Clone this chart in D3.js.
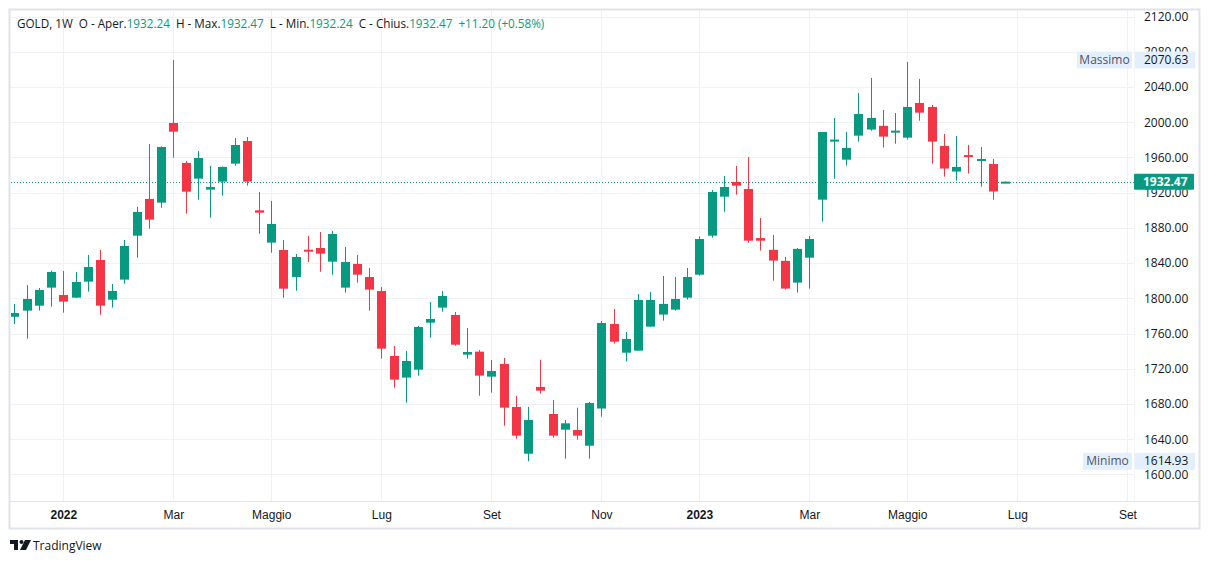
<!DOCTYPE html>
<html>
<head>
<meta charset="utf-8">
<script src="https://cdn.jsdelivr.net/npm/d3@7/dist/d3.min.js"></script>
<style>
  html, body { margin: 0; padding: 0; background: #ffffff; }
  svg { display: block; font-family: "Open Sans", Roboto, "Liberation Sans", sans-serif; }
</style>
</head>
<body>
<svg id="chart" width="1209" height="564"></svg>
<script>
// ---------- DATA (weekly GOLD candles) ----------
const firstWeek = "2021-12-06";   // Monday of first visible weekly bar
const barCount = 82;

const opens = [1779,1786,1791.6,1812.1,1803.7,1800.7,1818.9,1843.5,1798.4,1821.2,
  1871.1,1912.8,1908.6,1999.1,1953.7,1935.9,1923.4,1932.5,1952.9,1978.6,
  1899.9,1863.2,1854.9,1824.2,1855.2,1857.1,1841.6,1812.1,1839,1824.2,
  1808.2,1734.5,1709.9,1718.9,1772.3,1789.4,1781,1736,1739.4,1711,
  1725.4,1676.6,1623.5,1699.3,1668.6,1650.8,1650.4,1632.6,1674.8,1770.8,
  1738.2,1740.5,1767.8,1781.5,1787.1,1800.7,1826.8,1871.1,1915.4,1932.1,
  1924.1,1868.4,1855,1842.5,1817.8,1846.1,1912,1979.1,1957.4,1984.7,
  1991.6,1995.8,1989.2,1982.4,2021.8,2017.3,1973,1943.9,1962.6,1957,
  1952.5,1932.24];
const highs = [1793.5,1815,1811.7,1831.4,1831,1829.9,1849.2,1854.9,1816.2,1866.2,
  1903.7,1975.2,1972.5,2070.63,1956,1967.2,1950.3,1949.6,1982,1983.1,
  1920.7,1910.5,1866.2,1850.3,1870.8,1875.3,1876.4,1858.2,1849.2,1834.4,
  1812.8,1745.8,1740.1,1768.5,1795.8,1808.2,1784.4,1766.3,1741.3,1729.9,
  1732.2,1689,1676.6,1730.2,1684.5,1661.8,1675.8,1682.3,1774.2,1787.8,
  1761.7,1804.9,1807.2,1825.3,1824.2,1834.4,1870.3,1923,1938.9,1950.3,
  1960.5,1891.2,1872,1847,1857.2,1870.7,1988.9,2004.8,1988.9,2033.1,
  2050.2,2013.9,2010.4,2068.4,2049.1,2019.5,1986.6,1984.3,1974.1,1971.8,
  1958.2,1932.47];
const lows = [1770.8,1754.2,1786,1790.5,1783.7,1800.3,1807.5,1781.4,1789.4,1816.6,
  1846.1,1879.1,1902.9,1959.7,1896.1,1912,1891.6,1916.6,1950.6,1927.9,
  1873.4,1851.8,1800.7,1808.6,1841.2,1830.2,1826.8,1806.4,1817.8,1785.9,
  1731.4,1698.5,1681.5,1712.2,1755.3,1784.8,1746.2,1731.4,1689.4,1692.8,
  1655.3,1640.6,1614.93,1691.7,1641.7,1617.9,1639.4,1617.9,1665.6,1748.5,
  1728.3,1740.5,1767.8,1774.6,1786,1798.5,1825.7,1868.8,1898.2,1917.7,
  1863.2,1854.2,1820,1809.9,1806.4,1811,1887,1935.9,1950.6,1977.9,
  1990.4,1971.1,1975.6,1980.2,2001.7,1952.9,1938.2,1933.6,1941.7,1926.8,
  1912,1932.24];
const closes = [1783.3,1799.2,1809.4,1829.9,1796.2,1818.5,1835.5,1791.6,1808.3,1859.4,
  1898,1889.3,1971.8,1989.2,1921.1,1959.3,1926.4,1949.2,1974.1,1932.5,
  1897.2,1884.4,1810.9,1846.9,1853,1850.7,1873,1841.2,1826.8,1809.8,
  1742.8,1707.6,1728.8,1767.4,1776.5,1802.6,1747.3,1739,1712.2,1717.4,
  1675.8,1644,1661.8,1695.1,1644,1658,1644,1681.1,1771.9,1750.7,
  1753.8,1798.1,1798.1,1793.6,1799.2,1824.2,1867.3,1920.7,1926.4,1927.9,
  1865.4,1865.4,1842.8,1811,1856.1,1867.3,1988.9,1980.2,1970.7,2009.3,
  2004.8,1983.6,1990.4,2017.3,2010.8,1977.9,1947.3,1949.2,1960.7,1958.2,
  1921.27,1932.47];

const priceTicks = [1600,1640,1680,1720,1760,1800,1840,1880,1920,1960,2000,2040,2080,2120];
const timeTickDates = ["2022-01-03","2022-03-07","2022-05-02","2022-07-04","2022-09-05","2022-11-07",
  "2023-01-02","2023-03-06","2023-05-01","2023-07-03","2023-09-04"];
const timeTickLabels = ["2022","Mar","Maggio","Lug","Set","Nov","2023","Mar","Maggio","Lug","Set"];
const yearTicks = ["2022","2023"];

const symbolTitle = "GOLD, 1W";
const maxLabel = "Massimo", maxValue = 2070.63;
const minLabel = "Minimo", minValue = 1614.93;
const lastChange = 11.20, lastChangePct = 0.58;

// ---------- LAYOUT ----------
const W = 1209, H = 564;
const plotL = 10, plotR = 1134, plotT = 10, plotB = 501, axisB = 528, frameR = 1199;
const UP = "#089981", DOWN = "#F23645", TEXT = "#131722", GRID = "#f0f1f4", FRAME = "#e0e3eb";

const svg = d3.select("#chart");
const parse = d3.utcParse("%Y-%m-%d");
const dates = d3.utcMonday.range(parse(firstWeek), d3.utcDay.offset(parse(firstWeek), barCount * 7));
const bars = dates.map((d, i) => ({ date: d, o: opens[i], h: highs[i], l: lows[i], c: closes[i] }));

const x = d3.scaleUtc()
  .domain([parse("2022-01-03"), parse("2023-01-02")])
  .range([63.3, 699.3]);
const y = d3.scaleLinear().domain([1600, 2120]).range([474.4, 16.5]);

// background
svg.append("rect").attr("width", W).attr("height", H).attr("fill", "#fff");

// grid
const grid = svg.append("g");
grid.selectAll("line.h").data(priceTicks).join("line")
  .attr("x1", plotL).attr("x2", plotR)
  .attr("y1", d => Math.round(y(d)) + 0.5).attr("y2", d => Math.round(y(d)) + 0.5)
  .attr("stroke", GRID).attr("stroke-width", 1);
grid.selectAll("line.v").data(timeTickDates).join("line")
  .attr("x1", d => Math.round(x(parse(d))) + 0.5).attr("x2", d => Math.round(x(parse(d))) + 0.5)
  .attr("y1", plotT).attr("y2", plotB)
  .attr("stroke", GRID).attr("stroke-width", 1);

// clip for candles
svg.append("clipPath").attr("id", "plotclip").append("rect")
  .attr("x", plotL + 1).attr("y", plotT).attr("width", plotR - plotL - 1).attr("height", plotB - plotT);

// last price dotted line
const lastLineY = Math.round(y(closes[closes.length - 1])) + 0.5;
svg.append("line")
  .attr("x1", plotL + 1).attr("x2", plotR)
  .attr("y1", lastLineY).attr("y2", lastLineY)
  .attr("stroke", UP).attr("stroke-width", 1).attr("stroke-dasharray", "1,2");

// candles
const bodyW = 9;
const cg = svg.append("g").attr("clip-path", "url(#plotclip)");
const candle = cg.selectAll("g.c").data(bars).join("g")
  .attr("fill", d => d.c >= d.o ? UP : DOWN);
candle.append("rect")
  .attr("x", d => Math.round(x(d.date)))
  .attr("width", 1)
  .attr("y", d => y(d.h))
  .attr("height", d => Math.max(1, y(d.l) - y(d.h)));
candle.append("rect")
  .attr("x", d => Math.round(x(d.date)) - (bodyW - 1) / 2)
  .attr("width", bodyW)
  .attr("y", d => y(Math.max(d.o, d.c)))
  .attr("height", d => Math.max(2, Math.abs(y(d.o) - y(d.c))));

// frame
svg.append("rect").attr("x", plotL - 0.5).attr("y", plotT - 0.5)
  .attr("width", frameR - plotL + 1).attr("height", axisB - plotT + 1)
  .attr("fill", "none").attr("stroke", FRAME).attr("stroke-width", 2);
svg.append("line").attr("x1", plotL).attr("x2", frameR).attr("y1", plotB + 0.5).attr("y2", plotB + 0.5)
  .attr("stroke", FRAME);
svg.append("line").attr("x1", plotR + 0.5).attr("x2", plotR + 0.5).attr("y1", plotT).attr("y2", plotB)
  .attr("stroke", "#f3f4f7");

// price axis
const yAxis = d3.axisRight(y).tickValues(priceTicks).tickFormat(d3.format(".2f")).tickSize(0).tickPadding(10);
const ya = svg.append("g").attr("transform", `translate(${plotR},0)`).call(yAxis);
ya.select(".domain").remove();
ya.selectAll("text").attr("fill", TEXT).attr("font-size", 12).attr("font-family", "Open Sans, Roboto, sans-serif");

// time axis
const xAxis = d3.axisBottom(x).tickValues(timeTickDates.map(parse))
  .tickFormat((d, i) => timeTickLabels[i]).tickSize(0).tickPadding(9);
const xa = svg.append("g").attr("transform", `translate(0,${plotB})`).call(xAxis);
xa.select(".domain").remove();
xa.selectAll("text").attr("fill", TEXT).attr("font-size", 12)
  .attr("font-weight", (d, i) => yearTicks.includes(timeTickLabels[i]) ? 600 : 400);

// max / min labels
function extremeLabel(label, value, w1) {
  const yy = y(value);
  const g = svg.append("g");
  g.append("rect").attr("x", plotR - w1).attr("y", yy - 8.5).attr("width", w1 - 2).attr("height", 17)
    .attr("fill", "#e3effd").attr("rx", 1);
  g.append("rect").attr("x", plotR + 1).attr("y", yy - 8.5).attr("width", 60).attr("height", 17)
    .attr("fill", "#e3effd").attr("rx", 1);
  g.append("text").attr("x", plotR - w1 / 2 - 1).attr("y", yy + 4.2).attr("text-anchor", "middle")
    .attr("font-size", 12).attr("fill", "#50535e").text(label);
  g.append("text").attr("x", plotR + 10).attr("y", yy + 4.2)
    .attr("font-size", 12).attr("fill", TEXT).text(d3.format(".2f")(value));
}
extremeLabel(maxLabel, maxValue, 57);
extremeLabel(minLabel, minValue, 51);

// last price label
const lastY = y(closes[closes.length - 1]);
svg.append("rect").attr("x", plotR).attr("y", lastY - 8).attr("width", 60).attr("height", 16)
  .attr("fill", UP).attr("rx", 1);
svg.append("text").attr("x", plotR + 9).attr("y", lastY + 4.5)
  .attr("font-size", 12).attr("font-weight", 700).attr("fill", "#fff")
  .text(d3.format(".2f")(closes[closes.length - 1]));

// header legend
const last = bars[bars.length - 1];
const hdr = svg.append("text").attr("x", 17).attr("y", 28).attr("font-size", 11.7).attr("fill", TEXT)
  .attr("xml:space", "preserve");
const parts = [
  [symbolTitle + "  O - Aper.", TEXT], [d3.format(".2f")(last.o), UP],
  ["  H - Max.", TEXT], [d3.format(".2f")(last.h), UP],
  ["  L - Min.", TEXT], [d3.format(".2f")(last.l), UP],
  ["  C - Chius.", TEXT], [d3.format(".2f")(last.c), UP],
  ["  +" + d3.format(".2f")(lastChange) + " (+" + d3.format(".2f")(lastChangePct) + "%)", UP]
];
parts.forEach(p => hdr.append("tspan").attr("fill", p[1]).text(p[0]));

// TradingView logo
const logo = svg.append("g").attr("transform", "translate(10,540)").attr("fill", TEXT);
logo.append("path").attr("d", "M0 0 H8 V10 H4 V4 H0 Z");
logo.append("circle").attr("cx", 11.5).attr("cy", 2).attr("r", 2);
logo.append("path").attr("d", "M15 0 H21 L16 10 H10 Z");
svg.append("text").attr("x", 33).attr("y", 550).attr("font-size", 12).attr("fill", TEXT).text("TradingView");
</script>
</body>
</html>
